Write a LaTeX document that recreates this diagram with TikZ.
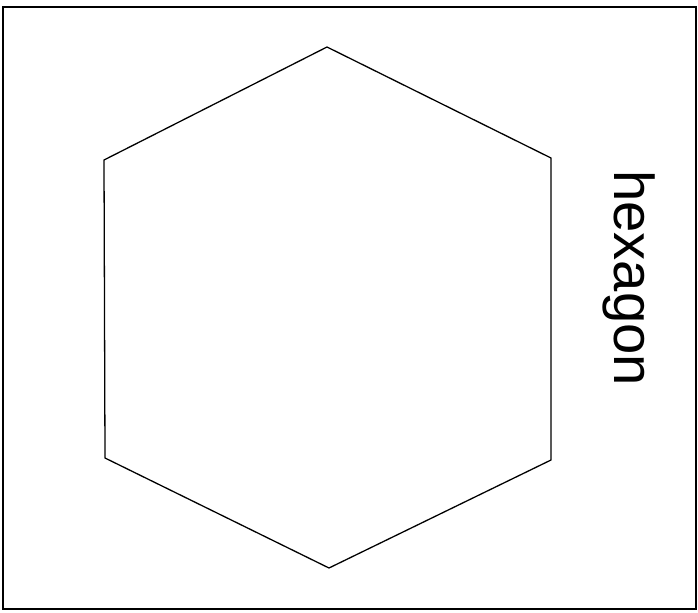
\documentclass[tikz,border=0pt]{standalone}
\usepackage{fontspec}
\setmainfont{Liberation Sans}
\usetikzlibrary{positioning}

\begin{document}
\begin{tikzpicture}[
				x=0.03cm, y=-0.03cm,
				frame/.style={draw=black, line width=1.4pt},
				hexline/.style={draw=black, line width=1.1pt, line join=miter},
				caption/.style={font=\fontsize{48}{50}\selectfont, inner sep=0pt, rotate=-90, anchor=base}
			]
			\useasboundingbox (0,0) rectangle (698,612);
			% Frame
			\coordinate (tl) at (3,7);
			\coordinate (br) at (696,609);
			\draw[frame] (tl) rectangle (br);
			% Corners of the hexagon
			\foreach \n/\px/\py in {top/327/47, ur/551/158, lr/551/460, bot/329/568, ll/105/458, ul/104/160} {
					\coordinate (\n) at (\px,\py);
				}
			\draw[hexline] (top) -- (ur) -- (lr) -- (bot) -- (ll) -- (ul) -- cycle;
			% Caption
			\node[caption] (name) at (614,278) {hexagon};
		\end{tikzpicture}
\end{document}
